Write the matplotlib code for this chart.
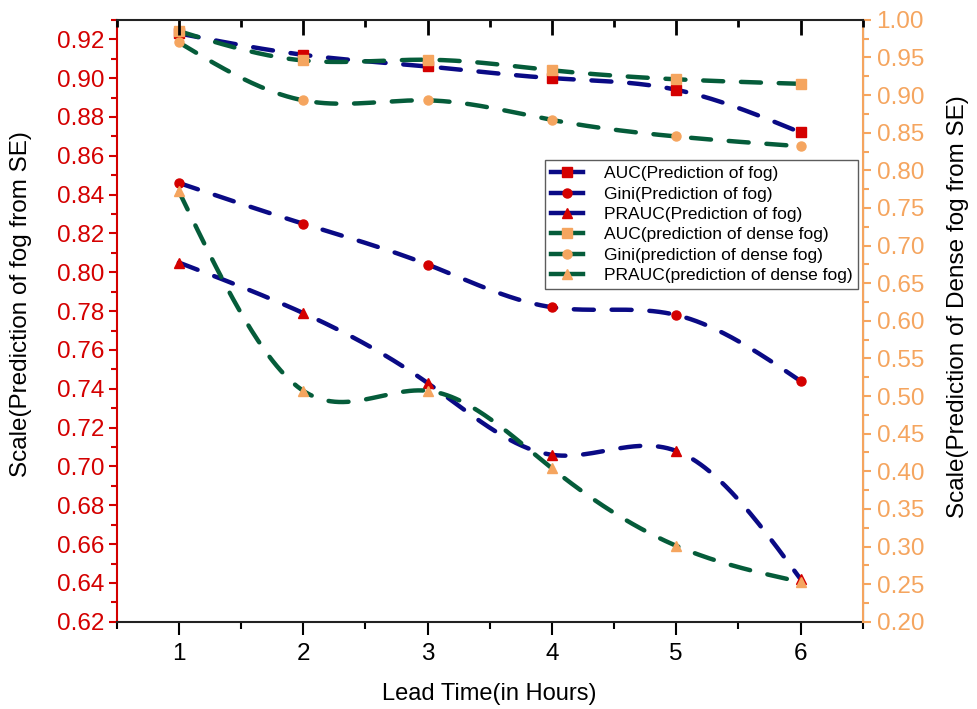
import numpy as np
import matplotlib.pyplot as plt
from matplotlib.lines import Line2D
from matplotlib.legend_handler import HandlerLine2D
from matplotlib.ticker import MultipleLocator, FormatStrFormatter

plt.rcParams['font.family'] = ['Liberation Sans', 'DejaVu Sans']

lead = [1, 2, 3, 4, 5, 6]

# fog (left axis)
auc_fog = [0.923, 0.912, 0.906, 0.900, 0.894, 0.872]
gini_fog = [0.846, 0.825, 0.804, 0.782, 0.778, 0.744]
prauc_fog = [0.805, 0.779, 0.743, 0.706, 0.708, 0.642]

# dense fog (right axis)
auc_dense = [0.985, 0.946, 0.947, 0.933, 0.921, 0.915]
gini_dense = [0.970, 0.893, 0.893, 0.867, 0.845, 0.832]
prauc_dense = [0.772, 0.507, 0.507, 0.404, 0.301, 0.253]

labels_fog = ["AUC(Prediction of fog)", "Gini(Prediction of fog)", "PRAUC(Prediction of fog)"]
labels_dense = ["AUC(prediction of dense fog)", "Gini(prediction of dense fog)",
                "PRAUC(prediction of dense fog)"]

NAVY = '#0a0a85'
GREEN = '#055c3a'
RED = '#d40000'
ORANGE = '#f5a55f'


def spline(x, y, n=300):
    # natural cubic spline, like Origin's spline connector
    x = np.asarray(x, float)
    y = np.asarray(y, float)
    h = np.diff(x)
    m = len(x)
    A = np.zeros((m, m))
    r = np.zeros(m)
    A[0, 0] = A[-1, -1] = 1
    for i in range(1, m - 1):
        A[i, i - 1] = h[i - 1]
        A[i, i] = 2 * (h[i - 1] + h[i])
        A[i, i + 1] = h[i]
        r[i] = 3 * ((y[i + 1] - y[i]) / h[i] - (y[i] - y[i - 1]) / h[i - 1])
    c = np.linalg.solve(A, r)
    b = (y[1:] - y[:-1]) / h - h * (2 * c[:-1] + c[1:]) / 3
    d = (c[1:] - c[:-1]) / (3 * h)
    xs = np.linspace(x[0], x[-1], n)
    k = np.clip(np.searchsorted(x, xs) - 1, 0, m - 2)
    dx = xs - x[k]
    return xs, y[k] + b[k] * dx + c[k] * dx ** 2 + d[k] * dx ** 3


class EndMarker(HandlerLine2D):
    def get_xdata(self, legend, xdescent, ydescent, width, height, fontsize):
        xd, _ = super().get_xdata(legend, xdescent, ydescent, width, height, fontsize)
        return xd, np.array([xd[-1]])


fig = plt.figure(figsize=(9.77, 7.09), dpi=100)
ax = fig.add_axes([0.1195, 0.123, 0.7635, 0.849])
ax2 = ax.twinx()

dash = (0, (4.5, 4.0))
lw = 3.2
markers = ['s', 'o', '^']

handles = []
for vals, mk, lab in zip([auc_fog, gini_fog, prauc_fog], markers, labels_fog):
    xs, ys = spline(lead, vals)
    ax.plot(xs, ys, color=NAVY, lw=lw, linestyle=dash, dash_capstyle='round', zorder=2)
    ax.plot(lead, vals, linestyle='none', marker=mk, ms=6.5, color=RED, mec=RED, zorder=3)
    handles.append(Line2D([], [], color=NAVY, lw=lw, marker=mk, ms=6.5, mfc=RED, mec=RED, label=lab))

for vals, mk, lab in zip([auc_dense, gini_dense, prauc_dense], markers, labels_dense):
    xs, ys = spline(lead, vals)
    ax2.plot(xs, ys, color=GREEN, lw=lw, linestyle=dash, dash_capstyle='round', zorder=2)
    ax2.plot(lead, vals, linestyle='none', marker=mk, ms=6.5, color=ORANGE, mec=ORANGE, zorder=3)
    handles.append(Line2D([], [], color=GREEN, lw=lw, marker=mk, ms=6.5, mfc=ORANGE, mec=ORANGE, label=lab))

ax.set_xlim(0.5, 6.5)
ax.set_ylim(0.62, 0.93)
ax2.set_ylim(0.20, 1.00)

ax.xaxis.set_major_locator(MultipleLocator(1))
ax.xaxis.set_minor_locator(MultipleLocator(0.5))
ax.yaxis.set_major_locator(MultipleLocator(0.02))
ax.yaxis.set_minor_locator(MultipleLocator(0.01))
ax.yaxis.set_major_formatter(FormatStrFormatter('%.2f'))
ax2.yaxis.set_major_locator(MultipleLocator(0.05))
ax2.yaxis.set_minor_locator(MultipleLocator(0.025))
ax2.yaxis.set_major_formatter(FormatStrFormatter('%.2f'))

ax.tick_params(axis='x', which='major', direction='out', length=9, width=1.5, labelsize=17.5,
               pad=6)
ax.tick_params(axis='x', which='minor', direction='out', length=5, width=1.5)
ax.tick_params(axis='y', which='major', direction='out', length=6, width=1.5, color=RED,
               labelcolor=RED, labelsize=17.5, pad=3)
ax.tick_params(axis='y', which='minor', direction='out', length=4, width=1.5, color=RED)
ax2.tick_params(axis='y', which='major', direction='out', length=6, width=1.5, color=ORANGE,
                labelcolor=ORANGE, labelsize=17.5, pad=4)
ax2.tick_params(axis='y', which='minor', direction='out', length=4, width=1.5, color=ORANGE)

# top ticks point inward, on a twin x axis drawn above the others
tw = ax.twiny()
tw.set_zorder(5)
tw.set_xlim(0.5, 6.5)
tw.xaxis.set_major_locator(MultipleLocator(1))
tw.xaxis.set_minor_locator(MultipleLocator(0.5))
tw.tick_params(axis='x', which='major', direction='in', length=11, width=2,
               color='black', labeltop=False)
tw.tick_params(axis='x', which='minor', direction='in', length=5, width=2, color='black')
for s in ['left', 'right', 'bottom']:
    tw.spines[s].set_visible(False)
tw.spines['top'].set_linewidth(1.5)
tw.spines['top'].set_color('#222222')

ax.spines['bottom'].set_linewidth(1.5)
ax.spines['bottom'].set_color('#222222')
ax.spines['top'].set_visible(False)
ax.spines['left'].set_color(RED)
ax.spines['left'].set_linewidth(1.5)
ax2.spines['right'].set_color(ORANGE)
ax2.spines['right'].set_linewidth(1.5)
ax2.spines['left'].set_visible(False)
ax2.spines['top'].set_visible(False)
ax2.spines['bottom'].set_visible(False)

ax.set_xlabel("Lead Time(in Hours)", fontsize=17, labelpad=13)
ax.set_ylabel("Scale(Prediction of fog from SE)", fontsize=17.5)
ax2.set_ylabel("Scale(Prediction of Dense fog from SE)", fontsize=17.5)
ax.yaxis.set_label_coords(-0.114, 0.528)
ax2.yaxis.set_label_coords(1.113, 0.524)

leg = tw.legend(handles=handles, loc='upper right', bbox_to_anchor=(0.994, 0.767),
                borderaxespad=0, fontsize=12.5, frameon=True, fancybox=False,
                edgecolor='#333333', handlelength=1.8, handletextpad=1.2,
                labelspacing=0.3, borderpad=0.35,
                handler_map={Line2D: EndMarker(numpoints=1)})
leg.get_frame().set_linewidth(1.0)

fig.savefig('out.png', dpi=100)
